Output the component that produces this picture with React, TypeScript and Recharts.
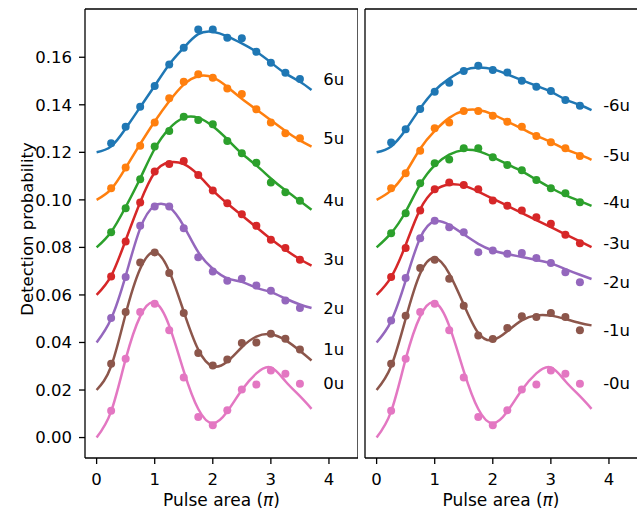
// Detection probability vs pulse area, two panels of offset Rabi-like curves
import React from "react";
import {
  ComposedChart,
  Line,
  Scatter,
  XAxis,
  YAxis,
  ReferenceLine,
} from "recharts";

const FONT = "DejaVu Sans, Verdana, sans-serif";
const COLORS = ["#1f77b4", "#ff7f0e", "#2ca02c", "#d62728", "#9467bd", "#8c564b", "#e377c2"];

const X_DOMAIN: [number, number] = [-0.2, 4.5];
const Y_DOMAIN: [number, number] = [-0.0086, 0.1803];
const X_TICKS = [0, 1, 2, 3, 4];
const Y_TICKS = [0, 0.02, 0.04, 0.06, 0.08, 0.1, 0.12, 0.14, 0.16];
const LABEL_X = 3.9;

// measured pulse areas and fit sample positions
const dotX = [0.25, 0.5, 0.75, 1, 1.25, 1.5, 1.75, 2, 2.25, 2.5, 2.75, 3, 3.25, 3.5];
const fitX = [0, 0.25, 0.5, 0.75, 1, 1.25, 1.5, 1.75, 2, 2.25, 2.5, 2.75, 3, 3.25, 3.5, 3.7];

const leftLabels = ["6u", "5u", "4u", "3u", "2u", "1u", "0u"];
const rightLabels = ["-6u", "-5u", "-4u", "-3u", "-2u", "-1u", "-0u"];

// left panel: measured points
const l6 = [0.1238, 0.1308, 0.1392, 0.1479, 0.157, 0.164, 0.1717, 0.1717, 0.1682, 0.168, 0.1623, 0.1577, 0.1535, 0.1508];
const l5 = [0.1049, 0.1136, 0.1228, 0.1326, 0.1427, 0.1497, 0.1528, 0.1514, 0.1469, 0.1445, 0.1381, 0.1325, 0.128, 0.1259];
const l4 = [0.0864, 0.0965, 0.1087, 0.1224, 0.129, 0.135, 0.1336, 0.1318, 0.1248, 0.1196, 0.1156, 0.1073, 0.1032, 0.0996];
const l3 = [0.0678, 0.0825, 0.0989, 0.1119, 0.1151, 0.1164, 0.1105, 0.1039, 0.0986, 0.094, 0.0891, 0.0832, 0.0797, 0.0748];
const l2 = [0.0503, 0.0675, 0.0891, 0.0972, 0.0972, 0.0881, 0.0759, 0.0699, 0.066, 0.0668, 0.064, 0.0618, 0.0577, 0.0545];
const l1 = [0.0311, 0.0528, 0.0737, 0.0779, 0.0692, 0.0524, 0.0356, 0.0303, 0.0328, 0.0398, 0.04, 0.0437, 0.0416, 0.037];
const l0 = [0.0113, 0.0332, 0.0528, 0.0563, 0.0451, 0.0253, 0.0087, 0.0052, 0.0115, 0.0202, 0.0223, 0.0282, 0.0268, 0.0226];

// left panel: fitted curves
const f6 = [0.12, 0.1225, 0.13, 0.139, 0.148, 0.157, 0.164, 0.1697, 0.1707, 0.1688, 0.1658, 0.1623, 0.1578, 0.1532, 0.1497, 0.1462];
const f5 = [0.1, 0.1045, 0.1135, 0.1235, 0.133, 0.1415, 0.1485, 0.152, 0.1515, 0.1475, 0.1425, 0.138, 0.1335, 0.129, 0.125, 0.1224];
const f4 = [0.08, 0.0865, 0.097, 0.109, 0.1215, 0.13, 0.1345, 0.1345, 0.131, 0.1255, 0.1195, 0.1145, 0.109, 0.104, 0.0995, 0.0958];
const f3 = [0.06, 0.068, 0.083, 0.099, 0.1115, 0.1158, 0.115, 0.1105, 0.104, 0.0985, 0.0935, 0.0885, 0.0835, 0.079, 0.075, 0.0723];
const f2 = [0.04, 0.05, 0.068, 0.088, 0.0975, 0.097, 0.089, 0.078, 0.071, 0.067, 0.0655, 0.063, 0.0612, 0.0585, 0.056, 0.0545];
const f1 = [0.02, 0.03, 0.052, 0.071, 0.078, 0.07, 0.053, 0.037, 0.03, 0.032, 0.038, 0.0425, 0.0435, 0.041, 0.0365, 0.0324];
const f0 = [0, 0.011, 0.033, 0.051, 0.0568, 0.047, 0.028, 0.012, 0.006, 0.011, 0.02, 0.027, 0.0295, 0.0237, 0.0174, 0.0121];

// right panel: measured points
const r6 = [0.1241, 0.1297, 0.1382, 0.1455, 0.1493, 0.1542, 0.1564, 0.1546, 0.1536, 0.1501, 0.1476, 0.1458, 0.142, 0.1396];
const r5 = [0.1049, 0.1112, 0.1207, 0.1301, 0.1326, 0.1374, 0.1374, 0.1354, 0.1329, 0.1308, 0.1269, 0.1242, 0.1217, 0.1185];
const r4 = [0.086, 0.0944, 0.107, 0.1154, 0.117, 0.1217, 0.1217, 0.1179, 0.1147, 0.1125, 0.1084, 0.1049, 0.1028, 0.099];
const r3 = [0.0675, 0.0797, 0.0955, 0.1045, 0.1073, 0.1063, 0.1045, 0.0997, 0.0975, 0.0955, 0.0927, 0.0899, 0.0853, 0.0818];
const r2 = [0.0493, 0.0671, 0.0839, 0.0912, 0.0885, 0.0864, 0.078, 0.0787, 0.0773, 0.0776, 0.0755, 0.0734, 0.0695, 0.0653];
const r1 = [0.031, 0.0512, 0.0713, 0.0748, 0.0668, 0.0555, 0.0429, 0.0415, 0.0461, 0.051, 0.0507, 0.0524, 0.0507, 0.0451];
const r0 = [0.0113, 0.0332, 0.0528, 0.0563, 0.0451, 0.0253, 0.0087, 0.0052, 0.0115, 0.0202, 0.0223, 0.0282, 0.0268, 0.0226];

// right panel: fitted curves
const g6 = [0.12, 0.1225, 0.1295, 0.1385, 0.146, 0.151, 0.1545, 0.1557, 0.155, 0.1528, 0.1504, 0.148, 0.1455, 0.1423, 0.1399, 0.1378];
const g5 = [0.1, 0.104, 0.1115, 0.1215, 0.129, 0.1345, 0.1375, 0.1378, 0.136, 0.133, 0.13, 0.127, 0.1243, 0.1213, 0.119, 0.1168];
const g4 = [0.08, 0.086, 0.095, 0.1065, 0.1145, 0.119, 0.121, 0.1205, 0.118, 0.115, 0.112, 0.1085, 0.105, 0.102, 0.0995, 0.0975];
const g3 = [0.06, 0.0675, 0.081, 0.096, 0.104, 0.1065, 0.106, 0.1035, 0.1005, 0.0975, 0.0945, 0.0915, 0.0885, 0.0855, 0.0825, 0.0801];
const g2 = [0.04, 0.049, 0.066, 0.084, 0.091, 0.0895, 0.0855, 0.0815, 0.0787, 0.0772, 0.076, 0.0747, 0.0733, 0.0709, 0.0685, 0.0667];
const g1 = [0.02, 0.03, 0.05, 0.069, 0.0755, 0.069, 0.056, 0.044, 0.041, 0.0447, 0.0493, 0.0514, 0.0513, 0.0499, 0.0482, 0.0472];
const g0 = [0, 0.011, 0.033, 0.051, 0.0568, 0.047, 0.028, 0.012, 0.006, 0.011, 0.02, 0.027, 0.0295, 0.0237, 0.0174, 0.0121];

const toPoints = (xs: number[], ys: number[]) => xs.map((x, i) => ({ x, y: ys[i] }));

interface PanelProps {
  left: number;
  width: number;
  yAxisWidth: number;
  showYTickLabels: boolean;
  labels: string[];
  dots: number[][];
  fits: number[][];
  xTitleX: number;
  yTitle?: string;
}

function Panel({ left, width, yAxisWidth, showYTickLabels, labels, dots, fits, xTitleX, yTitle }: PanelProps) {
  const tickStyle = { fill: "#000", fontSize: 16.5, fontFamily: FONT };
  return (
    <div style={{ position: "absolute", left, top: 0 }}>
      <ComposedChart width={width} height={513} margin={{ top: 9, right: 0, left: 0, bottom: 0 }}>
        <XAxis
          dataKey="x"
          type="number"
          domain={X_DOMAIN}
          ticks={X_TICKS}
          allowDataOverflow
          height={55}
          tick={tickStyle}
          tickSize={6}
          tickMargin={9}
          axisLine={{ stroke: "#000", strokeWidth: 1.3 }}
          tickLine={{ stroke: "#000", strokeWidth: 1.3 }}
        />
        <YAxis
          dataKey="y"
          type="number"
          domain={Y_DOMAIN}
          ticks={Y_TICKS}
          allowDataOverflow
          width={yAxisWidth}
          tick={showYTickLabels ? tickStyle : false}
          tickFormatter={(v: number) => v.toFixed(2)}
          tickSize={6}
          tickMargin={7}
          axisLine={{ stroke: "#000", strokeWidth: 1.3 }}
          tickLine={{ stroke: "#000", strokeWidth: 1.3 }}
        />
        <ReferenceLine y={Y_DOMAIN[1]} stroke="#000" strokeWidth={1.3} />
        <ReferenceLine x={X_DOMAIN[1]} stroke="#000" strokeWidth={1.3} />
        {fits.map((ys, i) => (
          <Line
            key={`fit-${i}`}
            data={toPoints(fitX, ys)}
            dataKey="y"
            type="natural"
            stroke={COLORS[i]}
            strokeWidth={2.5}
            dot={false}
            activeDot={false}
            isAnimationActive={false}
          />
        ))}
        {dots.map((ys, i) => (
          <Scatter
            key={`dots-${i}`}
            data={toPoints(dotX, ys)}
            dataKey="y"
            isAnimationActive={false}
            shape={(p: any) => <circle cx={p.cx} cy={p.cy} r={4} fill={COLORS[i]} />}
          />
        ))}
        {dots.map((ys, i) => (
          <Scatter
            key={`label-${i}`}
            data={[{ x: LABEL_X, y: ys[ys.length - 1] }]}
            dataKey="y"
            isAnimationActive={false}
            shape={(p: any) => (
              <text x={p.cx} y={p.cy} dominantBaseline="central" fontSize={16.5} fontFamily={FONT} fill="#000">
                {labels[i]}
              </text>
            )}
          />
        ))}
        <text x={xTitleX} y={506} textAnchor="middle" fontSize={17} fontFamily={FONT} fill="#000">
          Pulse area (<tspan fontStyle="italic">π</tspan>)
        </text>
        {yTitle && (
          <text
            x={33}
            y={229}
            transform="rotate(-90 33 229)"
            textAnchor="middle"
            fontSize={16.5}
            fontFamily={FONT}
            fill="#000"
          >
            {yTitle}
          </text>
        )}
      </ComposedChart>
    </div>
  );
}

export default function App() {
  return (
    <div
      style={{
        position: "absolute",
        left: 0,
        top: 0,
        width: 637,
        height: 513,
        overflow: "hidden",
        background: "#fff",
        fontFamily: FONT,
      }}
    >
      <Panel
        left={0}
        width={358}
        yAxisWidth={85}
        showYTickLabels
        labels={leftLabels}
        dots={[l6, l5, l4, l3, l2, l1, l0]}
        fits={[f6, f5, f4, f3, f2, f1, f0]}
        xTitleX={221.5}
        yTitle="Detection probability"
      />
      <Panel
        left={300}
        width={338}
        yAxisWidth={65}
        showYTickLabels={false}
        labels={rightLabels}
        dots={[r6, r5, r4, r3, r2, r1, r0]}
        fits={[g6, g5, g4, g3, g2, g1, g0]}
        xTitleX={201}
      />
    </div>
  );
}
